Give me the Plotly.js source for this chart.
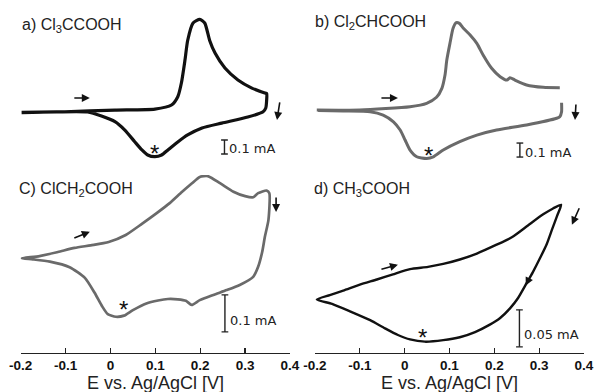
<!DOCTYPE html>
<html><head><meta charset="utf-8">
<script src="https://cdn.plot.ly/plotly-3.0.1.min.js"></script>
<style>html,body{margin:0;padding:0;background:#fff}#chart{width:595px;height:392px}</style>
</head><body><div id="chart"></div>
<script>
// Potential E vs. Ag/AgCl [V] and current [mA]
const tickValues = [-0.2, -0.1, 0, 0.1, 0.2, 0.3, 0.4];
const tickLabels = ['-0.2', '-0.1', '0', '0.1', '0.2', '0.3', '0.4'];

// a) Cl3CCOOH
const Ea = [-0.198,-0.102,0.010,0.099,0.136,0.150,0.158,0.166,0.172,0.184,0.199,0.210,0.221,0.233,0.255,0.284,0.315,0.344,0.348,0.348,0.346,0.340,0.306,0.248,0.204,0.172,0.150,0.128,0.114,0.099,0.083,0.070,0.054,0.032,0.010,-0.020,-0.051,-0.120,-0.198];
const Ia = [0,0.007,0.019,0.026,0.055,0.114,0.212,0.376,0.516,0.641,0.667,0.641,0.516,0.426,0.319,0.234,0.176,0.141,0.137,0.091,0.034,0.007,-0.031,-0.074,-0.109,-0.159,-0.209,-0.266,-0.302,-0.314,-0.302,-0.266,-0.207,-0.124,-0.064,-0.024,0.005,0.006,0.002];

// b) Cl2CHCOOH (gap at the switching potential)
const Eb = [-0.196,-0.100,0.012,0.049,0.071,0.083,0.090,0.094,0.101,0.108,0.115,0.122,0.131,0.146,0.161,0.175,0.194,0.213,0.228,0.235,0.246,0.272,0.309,0.346,null,0.350,0.350,0.346,0.339,0.272,0.205,0.161,0.123,0.086,0.064,0.049,0.027,0.012,0.001,-0.010,-0.025,-0.048,-0.077,-0.137,-0.193];
const Ib = [0,0,0.024,0.048,0.091,0.155,0.250,0.357,0.476,0.584,0.624,0.619,0.584,0.536,0.476,0.393,0.298,0.238,0.214,0.231,0.214,0.179,0.162,0.159,null,0.052,-0.012,-0.048,-0.059,-0.107,-0.143,-0.179,-0.226,-0.286,-0.334,-0.346,-0.334,-0.286,-0.214,-0.143,-0.084,-0.036,-0.012,-0.007,-0.004];

// c) ClCH2COOH
const Ec = [-0.198,-0.158,-0.117,-0.080,-0.044,-0.004,0.034,0.070,0.103,0.132,0.159,0.181,0.199,0.217,0.244,0.274,0.300,0.318,0.329,0.348,0.354,0.352,0.344,0.338,0.329,0.318,0.288,0.259,0.229,0.199,0.181,0.168,0.150,0.128,0.106,0.080,0.050,0.030,0.012,-0.006,-0.019,-0.035,-0.057,-0.091,-0.135,-0.173,-0.198];
const Ic = [0,0.006,0.017,0.028,0.035,0.044,0.063,0.093,0.122,0.149,0.179,0.202,0.220,0.222,0.203,0.180,0.168,0.165,0.176,0.183,0.176,0.104,0.058,0.017,-0.023,-0.050,-0.072,-0.086,-0.099,-0.113,-0.126,-0.115,-0.111,-0.110,-0.114,-0.122,-0.140,-0.155,-0.158,-0.151,-0.129,-0.094,-0.053,-0.024,-0.009,-0.003,0];

// d) CH3COOH
const Ed = [-0.196,-0.167,-0.137,-0.100,-0.062,-0.026,0.012,0.052,0.086,0.123,0.161,0.205,0.239,0.275,0.309,0.331,0.349,0.340,0.329,0.317,0.302,0.286,0.272,0.253,0.235,0.213,0.190,0.157,0.123,0.086,0.045,0.012,-0.015,-0.044,-0.077,-0.122,-0.162,-0.196];
const Id = [0,0.006,0.012,0.020,0.027,0.034,0.041,0.044,0.048,0.054,0.062,0.074,0.084,0.100,0.115,0.123,0.128,0.113,0.095,0.075,0.056,0.037,0.022,0.002,-0.012,-0.025,-0.034,-0.044,-0.051,-0.055,-0.057,-0.054,-0.048,-0.039,-0.028,-0.016,-0.006,0];

const panelLabels = ['a) Cl<sub>3</sub>CCOOH', 'b) Cl<sub>2</sub>CHCOOH', 'C) ClCH<sub>2</sub>COOH', 'd) CH<sub>3</sub>COOH'];
const scaleLabels = ['0.1 mA', '0.1 mA', '0.1 mA', '0.05 mA'];
const scaleLengths = [0.1, 0.1, 0.1, 0.05];
const axisTitle = 'E vs. Ag/AgCl [V]';

const BLACK = '#111111', GREY = '#6a6a6a';
function tr(x, y, xa, ya, color, w) {
  return {x: x, y: y, xaxis: xa, yaxis: ya, mode: 'lines', type: 'scatter',
    line: {color: color, width: w, shape: 'spline', smoothing: 0.6},
    connectgaps: false, hoverinfo: 'skip', cliponaxis: false};
}
const data = [
  tr(Ea, Ia, 'x', 'y', BLACK, 3.2),
  tr(Eb, Ib, 'x2', 'y2', GREY, 3),
  tr(Ec, Ic, 'x3', 'y3', GREY, 2.7),
  tr(Ed, Id, 'x4', 'y4', BLACK, 2.4)
];

const LEFT = [0.0348, 0.4874], RIGHT = [0.5294, 0.9815];
const TOP = [0.5714, 0.9923], BOT = [0.1003, 0.5536];
function xa(dom, show, anchor) {
  const o = {domain: dom, range: [-0.2, 0.4], anchor: anchor, fixedrange: true, zeroline: false, showgrid: false};
  if (!show) { o.visible = false; return o; }
  Object.assign(o, {showline: true, linecolor: '#222', linewidth: 1.3, ticks: 'inside', ticklen: 5, tickwidth: 1.3, tickcolor: '#222',
    tickvals: tickValues, ticktext: tickLabels,
    tickfont: {family: 'Liberation Sans, Arial', size: 13.5, color: '#111', weight: 'bold'}, automargin: false});
  return o;
}
function ya(dom, range, anchor) {
  return {domain: dom, range: range, anchor: anchor, visible: false, fixedrange: true};
}

const shapes = [];
const annotations = [];
// scale bars
const bars = [
  {xr: 'x', yr: 'y', x: 0.254, y0: -0.195},
  {xr: 'x2', yr: 'y2', x: 0.257, y0: -0.236},
  {xr: 'x3', yr: 'y3', x: 0.255, y0: -0.099},
  {xr: 'x4', yr: 'y4', x: 0.256, y0: -0.014}
];
const cap = 0.0075;
bars.forEach((b, k) => {
  const y1 = b.y0 - scaleLengths[k];
  const ln = {color: '#222', width: 1.4};
  shapes.push({type: 'line', xref: b.xr, yref: b.yr, x0: b.x, x1: b.x, y0: b.y0, y1: y1, line: ln});
  shapes.push({type: 'line', xref: b.xr, yref: b.yr, x0: b.x - cap, x1: b.x + cap, y0: b.y0, y1: b.y0, line: ln});
  shapes.push({type: 'line', xref: b.xr, yref: b.yr, x0: b.x - cap, x1: b.x + cap, y0: y1, y1: y1, line: ln});
});
const scaleTextY = [-0.259, -0.300, -0.169, -0.047];
bars.forEach((b, k) => {
  annotations.push({xref: b.xr, yref: b.yr, x: b.x, y: scaleTextY[k], text: scaleLabels[k], showarrow: false,
    xanchor: 'left', yanchor: 'middle', xshift: 3, font: {family: 'DejaVu Sans, Verdana', size: 13, color: '#222'}});
});
// panel labels
const labelPos = [[20, 25], [313, 22], [17, 189], [312, 190]];
labelPos.forEach((p, k) => {
  annotations.push({xref: 'paper', yref: 'paper', x: p[0] / 595, y: 1 - p[1] / 392, text: panelLabels[k], showarrow: false,
    xanchor: 'left', yanchor: 'middle', font: {family: 'Liberation Sans, Arial', size: 16, color: '#222'}});
});
// x-axis titles of the bottom panels
[LEFT, RIGHT].forEach(dom => {
  annotations.push({xref: 'paper', yref: 'paper', x: (dom[0] + dom[1]) / 2, y: 1 - 383 / 392, text: axisTitle, showarrow: false,
    xanchor: 'center', yanchor: 'middle', font: {family: 'Liberation Sans, Arial', size: 18, color: '#222'}});
});
// stars
const stars = [['x', 'y', 0.099, -0.252], ['x2', 'y2', 0.054, -0.279], ['x3', 'y3', 0.028, -0.122], ['x4', 'y4', 0.039, -0.043]];
stars.forEach(s => {
  annotations.push({xref: s[0], yref: s[1], x: s[2], y: s[3], text: '*', showarrow: false, yanchor: 'middle', yshift: -6,
    font: {family: 'Liberation Sans, Arial', size: 24, color: '#111'}});
});
// scan-direction arrows
const arrows = [
  ['x', 'y', -0.046, 0.105, -17, 0], ['x', 'y', 0.371, -0.052, 3, -19],
  ['x2', 'y2', -0.015, 0.086, -18, 0], ['x2', 'y2', 0.380, -0.071, 1, -17],
  ['x3', 'y3', -0.046, 0.072, -17, 7], ['x3', 'y3', 0.369, 0.125, 0, -16],
  ['x4', 'y4', -0.015, 0.047, -18, 5], ['x4', 'y4', 0.373, 0.101, 8, -18],
  ['x4', 'y4', 0.270, 0.019, 3, -6]
];
arrows.forEach(a => {
  annotations.push({xref: a[0], yref: a[1], x: a[2], y: a[3], ax: a[4], ay: a[5], text: '', showarrow: true,
    arrowhead: 2, arrowsize: 1, arrowwidth: 1.6, arrowcolor: '#111', standoff: 0});
});

const layout = {
  width: 595, height: 392, margin: {l: 0, r: 0, t: 0, b: 0}, showlegend: false,
  paper_bgcolor: '#fff', plot_bgcolor: 'rgba(0,0,0,0)',
  xaxis: xa(LEFT, false, 'y'), yaxis: ya(TOP, [-0.395, 0.7836], 'x'),
  xaxis2: xa(RIGHT, false, 'y2'), yaxis2: ya(TOP, [-0.4143, 0.7643], 'x2'),
  xaxis3: xa(LEFT, true, 'y3'), yaxis3: ya(BOT, [-0.2551, 0.2251], 'x3'),
  xaxis4: xa(RIGHT, true, 'y4'), yaxis4: ya(BOT, [-0.0719, 0.1682], 'x4'),
  shapes: shapes, annotations: annotations
};
Plotly.newPlot('chart', data, layout, {staticPlot: true, displayModeBar: false});
</script></body></html>
